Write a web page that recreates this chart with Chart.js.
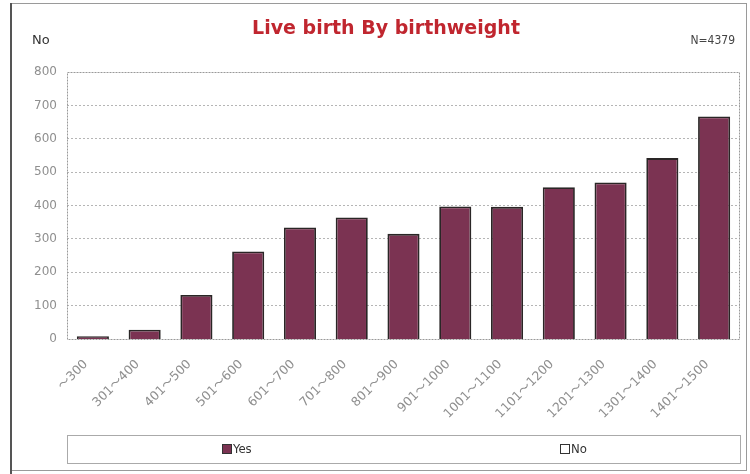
<!DOCTYPE html>
<html>
<head>
<meta charset="utf-8">
<script src="https://cdn.jsdelivr.net/npm/chart.js@4"></script>
<style>
  html, body { margin: 0; padding: 0; background: #fff; }
  #wrap { width: 750px; height: 474px; position: relative; }
</style>
</head>
<body>
<div id="wrap"><canvas id="chart" width="750" height="474"></canvas></div>
<script>
const categories = ["〜300", "301〜400", "401〜500", "501〜600", "601〜700", "701〜800", "801〜900",
  "901〜1000", "1001〜1100", "1101〜1200", "1201〜1300", "1301〜1400", "1401〜1500"];
const yesValues = [8, 28, 132, 262, 334, 364, 315, 397, 396, 455, 469, 542, 667];
const noValues = [0, 0, 0, 0, 0, 0, 0, 0, 0, 0, 0, 0, 0];
const yTicks = [0, 100, 200, 300, 400, 500, 600, 700, 800];

const titleText = "Live birth By birthweight";
const unitText = "No";
const totalText = "N=4379";

const barColor = "#7b3352";
const gray = "#8f8f8f";

// frame, title, side notes and the boxed legend
const decor = {
  id: "decor",
  beforeDraw(chart) {
    const c = chart.ctx;
    c.save();
    c.fillStyle = "#fff";
    c.fillRect(0, 0, chart.width, chart.height);
    c.strokeStyle = "#9a9a9a";
    c.lineWidth = 1;
    c.strokeRect(10.5, 3.5, 736, 467);
    c.strokeStyle = "#555";
    c.lineWidth = 2;
    c.beginPath();
    c.moveTo(11, 3);
    c.lineTo(11, 474);
    c.stroke();
    c.restore();
  },
  afterDraw(chart) {
    const c = chart.ctx;
    const a = chart.chartArea;
    c.save();
    c.fillStyle = "#c0262f";
    c.font = "bold 19px 'DejaVu Sans', sans-serif";
    c.textAlign = "center";
    c.textBaseline = "middle";
    c.fillText(titleText, 386, 29);

    c.fillStyle = "#333";
    c.font = "13px 'DejaVu Sans', sans-serif";
    c.textAlign = "left";
    c.fillText(unitText, 32, 41);
    c.font = "12px 'DejaVu Sans Condensed', 'DejaVu Sans', sans-serif";
    c.textAlign = "right";
    c.fillStyle = "#444";
    c.fillText(totalText, 735, 41);

    // dotted plot frame
    c.strokeStyle = "#999";
    c.lineWidth = 1;
    c.setLineDash([2, 1]);
    c.strokeRect(a.left + 0.5, a.top + 0.5, a.right - a.left - 1, a.bottom - a.top);
    c.setLineDash([]);

    // legend box
    const lx = a.left, ly = 435, lw = a.right - a.left, lh = 28;
    c.strokeStyle = "#aaa";
    c.strokeRect(lx + 0.5, ly + 0.5, lw, lh);
    const items = chart.data.datasets;
    const cx = [222, 560];
    c.font = "13px 'DejaVu Sans Condensed', 'DejaVu Sans', sans-serif";
    c.textAlign = "left";
    items.forEach((ds, i) => {
      c.fillStyle = ds.backgroundColor;
      c.fillRect(cx[i], 444, 10, 10);
      c.strokeStyle = "#333";
      c.strokeRect(cx[i] + 0.5, 444.5, 9, 9);
      c.fillStyle = "#333";
      c.fillText(ds.label, cx[i] + 11, 450);
    });
    c.restore();
  }
};

new Chart(document.getElementById("chart"), {
  type: "bar",
  data: {
    labels: categories,
    datasets: [
      {
        label: "Yes",
        data: yesValues,
        backgroundColor: barColor,
        borderColor: "#2a2626",
        borderWidth: 1.8,
        borderSkipped: "bottom",
        barPercentage: 0.62,
        categoryPercentage: 1
      },
      {
        label: "No",
        data: noValues,
        backgroundColor: "#ffffff",
        borderColor: "#2a2626",
        borderWidth: 1.5,
        barPercentage: 0.62,
        categoryPercentage: 1
      }
    ]
  },
  options: {
    responsive: false,
    animation: false,
    layout: { padding: { left: 0, right: 10, top: 72, bottom: 39 } },
    plugins: { legend: { display: false }, title: { display: false }, tooltip: { enabled: false } },
    scales: {
      x: {
        stacked: true,
        grid: { display: false, drawTicks: false },
        border: { display: false },
        ticks: {
          color: gray,
          font: { family: "'DejaVu Sans', 'Noto Sans CJK JP', sans-serif", size: 12.5 },
          maxRotation: 45,
          minRotation: 45,
          autoSkip: false,
          padding: 18,
          labelOffset: -7
        },
        afterFit(s) { s.height = 96; }
      },
      y: {
        stacked: true,
        min: 0,
        max: 800,
        afterBuildTicks(s) { s.ticks = yTicks.map((v) => ({ value: v })); },
        grid: {
          color: "#b5b5b5",
          drawTicks: false,
          lineWidth: (ctx) => (ctx.tick.value === 0 || ctx.tick.value === 800 ? 0 : 1),
          tickBorderDash: [2, 2]
        },
        border: { display: false, dash: [2, 2] },
        ticks: {
          color: gray,
          font: { family: "'DejaVu Sans', sans-serif", size: 12 },
          padding: 10
        },
        afterFit(s) { s.width = 67; }
      }
    }
  },
  plugins: [decor]
});
</script>
</body>
</html>
